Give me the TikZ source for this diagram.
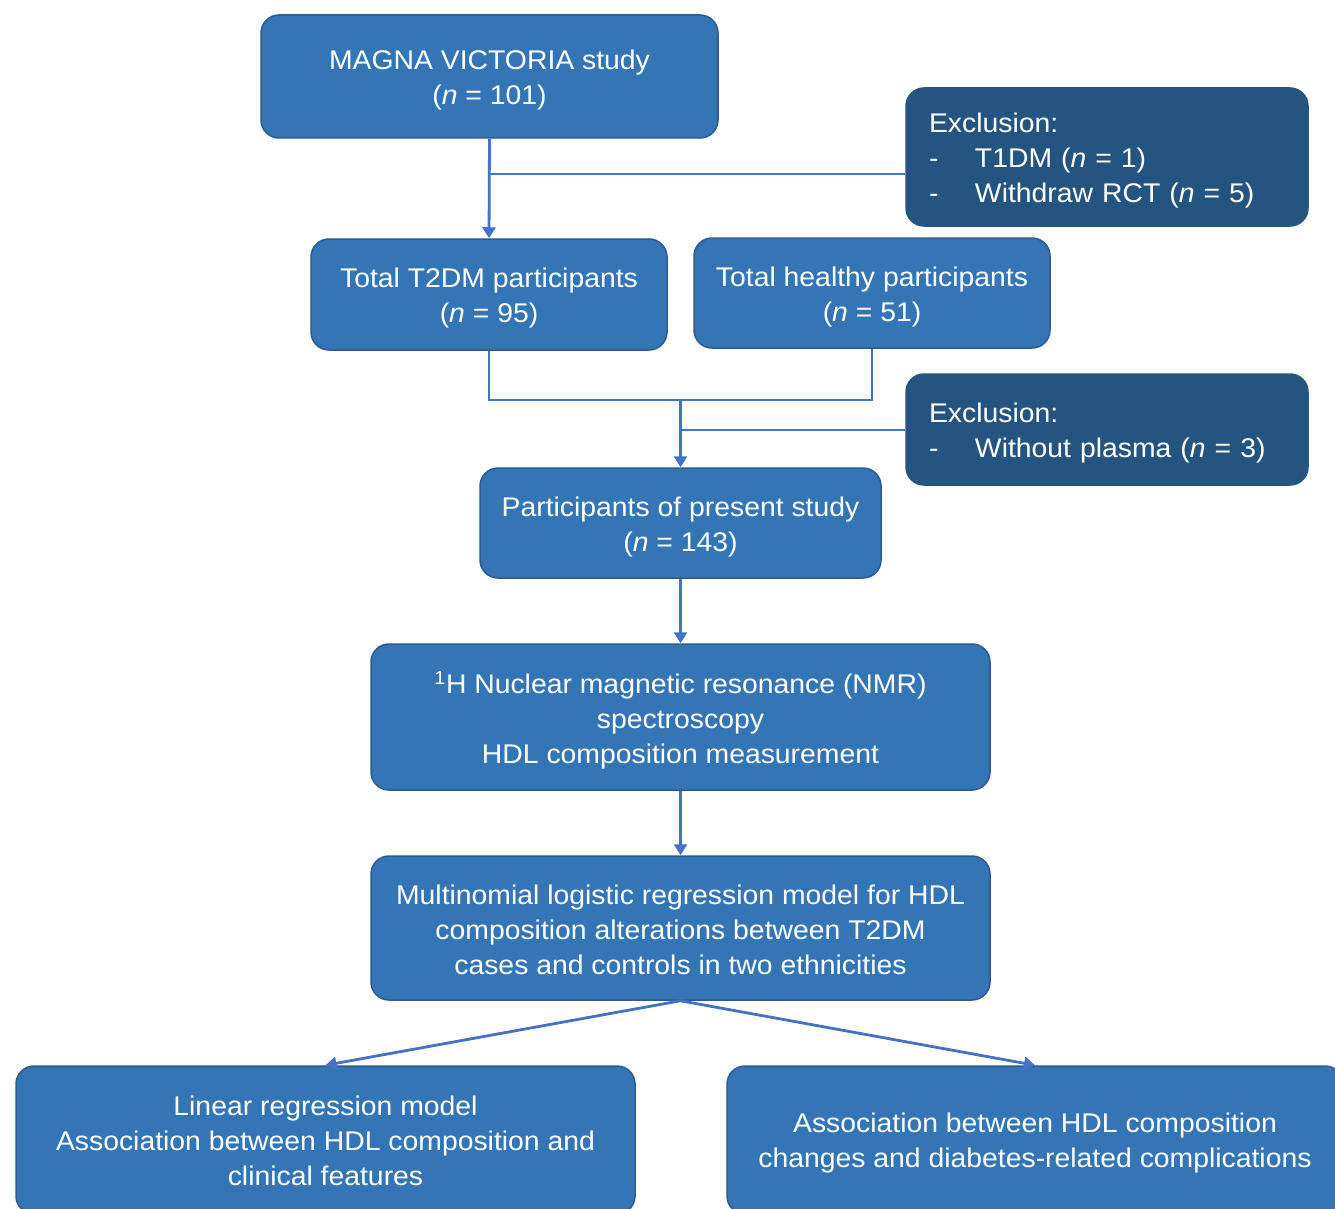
\documentclass[tikz,border=0pt]{standalone}
\usepackage{fontspec}
\setmainfont{Liberation Sans}[FakeStretch=1.05]
\usetikzlibrary{arrows.meta}
\definecolor{boxblue}{RGB}{51,117,181}
\definecolor{boxedge}{RGB}{44,90,145}
\definecolor{exblue}{RGB}{35,85,128}
\definecolor{linkblue}{RGB}{68,114,196}
\begin{document}
\begin{tikzpicture}[x=1pt,y=-1pt,
  mainbox/.style={draw=boxedge, line width=1.5pt, fill=boxblue, rounded corners=18pt, inner sep=0pt},
  exbox/.style={draw=exblue, line width=1.5pt, fill=exblue, rounded corners=18pt, inner sep=0pt, minimum width=402pt},
  boxtext/.style={text=white, align=center, font=\fontsize{27}{35}\selectfont, inner sep=0pt},
  extext/.style={text=white, align=left, text width=356pt, font=\fontsize{27}{35}\selectfont, inner sep=0pt},
  link/.style={draw=linkblue, line width=2.8pt},
  arr/.style={link, -{Triangle[length=11pt,width=13pt]}}]
\useasboundingbox (0,0) rectangle (1335,1209);
\fill[white] (0,0) rectangle (1335,1209);

% boxes
\node[mainbox, minimum width=457pt, minimum height=123pt] (magna) at (489.5,76.5) {};
\node[exbox, minimum height=138pt] (ex1) at (1107,157) {};
\node[mainbox, minimum width=356pt, minimum height=111pt] (t2dm) at (489,294.5) {};
\node[mainbox, minimum width=356pt, minimum height=110pt] (healthy) at (872,293) {};
\node[exbox, minimum height=111pt] (ex2) at (1107,429.5) {};
\node[mainbox, minimum width=401pt, minimum height=110pt] (present) at (680.5,523) {};
\node[mainbox, minimum width=619pt, minimum height=146pt] (nmr) at (680.5,717) {};
\node[mainbox, minimum width=619pt, minimum height=144pt] (multi) at (680.5,928) {};
\node[mainbox, minimum width=619pt, minimum height=148pt] (linear) at (325.5,1140) {};
\node[mainbox, minimum width=616pt, minimum height=148pt] (assoc) at (1035,1140) {};

% texts
\node[boxtext] (magnaT) at ([yshift=-4pt]magna.center) {MAGNA VICTORIA study\\(\textit{n} = 101)};
\node[extext] (ex1T) at ([yshift=-4pt]ex1.center)
  {Exclusion:\\\makebox[46pt][l]{-}T1DM (\textit{n} = 1)\\\makebox[46pt][l]{-}Withdraw RCT (\textit{n} = 5)};
\node[boxtext] (t2dmT) at ([yshift=-4pt]t2dm.center) {Total T2DM participants\\(\textit{n} = 95)};
\node[boxtext] (healthyT) at ([yshift=-4pt]healthy.center) {Total healthy participants\\(\textit{n} = 51)};
\node[extext] (ex2T) at ([yshift=-4pt]ex2.center) {Exclusion:\\\makebox[46pt][l]{-}Without plasma (\textit{n} = 3)};
\node[boxtext] (presentT) at ([yshift=-4pt]present.center) {Participants of present study\\(\textit{n} = 143)};
\node[boxtext] (nmrT) at ([yshift=-3pt]nmr.center)
  {\textsuperscript{1}H Nuclear magnetic resonance (NMR)\\spectroscopy\\HDL composition measurement};
\node[boxtext] (multiT) at ([yshift=-2pt]multi.center)
  {Multinomial logistic regression model for HDL\\composition alterations between T2DM\\cases and controls in two ethnicities};
\node[boxtext] (linearT) at ([yshift=-1pt]linear.center)
  {Linear regression model\\Association between HDL composition and\\clinical features};
\node[boxtext] (assocT) at ([yshift=-3pt]assoc.center)
  {Association between HDL composition\\changes and diabetes-related complications};

% connectors
\draw[arr] (magna.south) -- (t2dm.north);
\coordinate (j1) at (magna.south |- 0,174);
\draw[link] (j1) -- (j1 -| ex1.west);
\coordinate (j2) at (680.5,400);
\draw[link] (t2dm.south) -- (t2dm.south |- j2) -- (healthy.south |- j2) -- (healthy.south);
\draw[arr] (j2) -- (present.north);
\coordinate (j3) at (680.5,430);
\draw[link] (j3) -- (j3 -| ex2.west);
\draw[arr] (present.south) -- (nmr.north);
\draw[arr] (nmr.south) -- (multi.north);
\draw[arr] (multi.south) -- (linear.north);
\draw[arr] (multi.south) -- (assoc.north);
\end{tikzpicture}
\end{document}
